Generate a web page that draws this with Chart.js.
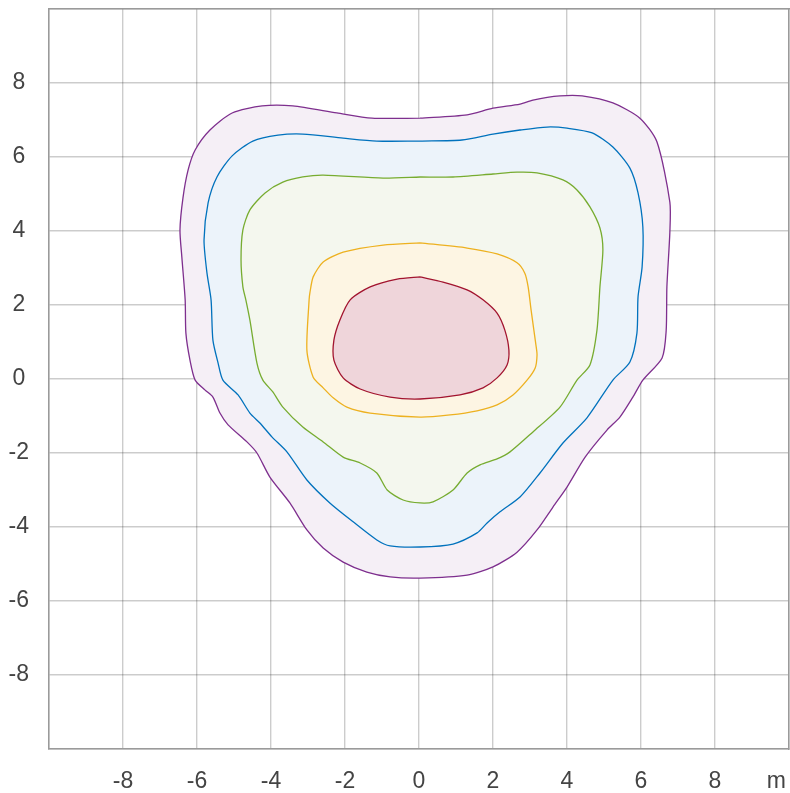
<!DOCTYPE html>
<html>
<head>
<meta charset="utf-8">
<script src="https://cdn.jsdelivr.net/npm/chart.js@4"></script>
<style>
  html, body { margin: 0; padding: 0; background: #fff; }
  #wrap { width: 790px; height: 793px; }
</style>
</head>
<body>
<div id="wrap"><canvas id="c" width="790" height="793"></canvas></div>
<script>
// Tick values
const tickValues = [-10, -8, -6, -4, -2, 0, 2, 4, 6, 8, 10];
const xUnitLabel = 'm';

// Contour levels (outer -> inner), closed polygons
const purpleX = [0.03, 1.30, 2.00, 2.73, 3.08, 3.81, 4.41, 5.24, 5.97, 6.43, 6.78, 6.78, 6.70, 6.68, 6.57, 6.05, 5.78, 5.43, 5.08, 4.49, 4.00, 3.62, 3.19, 2.65, 2.00, 1.30, 0.03, -0.78, -1.41, -2.05, -2.59, -3.03, -3.49, -4.03, -4.38, -4.65, -5.16, -5.38, -5.57, -5.78, -6.05, -6.19, -6.30, -6.32, -6.41, -6.46, -6.38, -6.24, -6.05, -5.65, -5.05, -4.24, -3.41, -2.22, -1.27, 0.03];
const purpleY = [7.05, 7.14, 7.32, 7.43, 7.54, 7.65, 7.65, 7.46, 7.05, 6.41, 4.78, 3.97, 2.49, 1.30, 0.57, -0.03, -0.49, -1.03, -1.38, -2.11, -2.92, -3.46, -4.08, -4.68, -5.08, -5.30, -5.38, -5.35, -5.22, -4.95, -4.57, -4.08, -3.35, -2.65, -2.00, -1.70, -1.24, -0.92, -0.49, -0.30, -0.03, 0.51, 1.24, 2.14, 3.30, 4.03, 4.89, 5.65, 6.19, 6.73, 7.19, 7.38, 7.38, 7.19, 7.05, 7.05];

const blueX = [0.03, 1.16, 2.00, 2.73, 3.46, 4.00, 4.68, 5.24, 5.70, 5.92, 6.05, 6.03, 5.92, 5.89, 5.70, 5.24, 4.54, 3.89, 3.27, 2.73, 2.19, 1.84, 1.57, 0.92, 0.03, -0.78, -1.14, -1.78, -2.41, -3.03, -3.57, -3.97, -4.30, -4.57, -4.89, -5.30, -5.43, -5.57, -5.62, -5.73, -5.81, -5.70, -5.46, -5.05, -4.49, -3.81, -3.14, -2.05, -1.14, 0.03];
const blueY = [6.43, 6.46, 6.62, 6.73, 6.81, 6.78, 6.65, 6.27, 5.70, 5.03, 4.11, 3.03, 2.22, 1.24, 0.46, -0.03, -1.05, -1.73, -2.54, -3.19, -3.59, -3.89, -4.16, -4.46, -4.54, -4.51, -4.35, -3.86, -3.35, -2.73, -1.97, -1.57, -1.19, -0.92, -0.43, -0.03, 0.43, 1.05, 2.14, 2.86, 3.76, 4.76, 5.46, 6.03, 6.43, 6.59, 6.62, 6.51, 6.43, 6.43];

const greenX = [0.03, 0.92, 2.00, 2.65, 3.19, 3.89, 4.27, 4.62, 4.89, 4.97, 4.89, 4.81, 4.62, 4.27, 3.81, 3.08, 2.46, 2.11, 1.65, 1.30, 0.92, 0.38, 0.03, -0.43, -0.86, -1.14, -1.59, -2.05, -2.59, -3.14, -3.68, -3.95, -4.22, -4.38, -4.57, -4.68, -4.76, -4.81, -4.76, -4.57, -4.16, -3.68, -3.14, -2.59, -0.97, 0.03];
const greenY = [5.46, 5.46, 5.54, 5.59, 5.57, 5.38, 5.11, 4.65, 4.08, 3.49, 2.49, 1.32, 0.38, -0.03, -0.76, -1.43, -1.97, -2.16, -2.32, -2.54, -3.00, -3.32, -3.35, -3.27, -3.00, -2.54, -2.27, -2.11, -1.70, -1.30, -0.76, -0.35, -0.03, 0.43, 1.59, 2.14, 2.49, 3.22, 4.03, 4.57, 5.03, 5.32, 5.46, 5.51, 5.43, 5.46];

const yellowX = [0.03, 1.30, 2.11, 2.65, 2.86, 2.95, 3.03, 3.16, 3.19, 3.14, 2.92, 2.54, 2.11, 1.57, 0.84, 0.03, -1.32, -1.95, -2.32, -2.59, -2.86, -3.03, -2.97, -2.95, -2.86, -2.59, -2.05, -0.97, 0.03];
const yellowY = [3.68, 3.54, 3.38, 3.14, 2.86, 2.49, 1.86, 0.92, 0.65, 0.30, -0.03, -0.43, -0.70, -0.86, -0.97, -1.03, -0.92, -0.76, -0.51, -0.24, 0.05, 0.78, 2.14, 2.32, 2.76, 3.16, 3.43, 3.62, 3.68];

const redX = [0.03, 0.65, 1.30, 1.73, 2.11, 2.32, 2.43, 2.38, 2.11, 1.73, 1.11, 0.03, -0.78, -1.59, -2.05, -2.30, -2.30, -2.14, -1.86, -1.32, -0.59, 0.03];
const redY = [2.76, 2.62, 2.41, 2.14, 1.78, 1.32, 0.78, 0.38, 0.03, -0.24, -0.43, -0.54, -0.49, -0.27, 0.03, 0.51, 1.05, 1.59, 2.14, 2.49, 2.70, 2.76];

function pts(xs, ys) { return xs.map((x, i) => ({ x: x, y: ys[i] })); }

const FONT = { family: '"Liberation Sans", Arial, Helvetica, sans-serif', size: 23 };
const TEXT = '#444444';
const GRID = 'rgba(0,0,0,0.2)';
const BORDER = '#9a9a9a';

function contour(xs, ys, line, fillc, ord) {
  return {
    data: pts(xs, ys),
    showLine: true,
    borderColor: line,
    backgroundColor: fillc,
    borderWidth: 1.3,
    pointRadius: 0,
    pointHoverRadius: 0,
    tension: 0.25,
    fill: 'shape',
    order: ord
  };
}

new Chart(document.getElementById('c'), {
  type: 'scatter',
  data: {
    datasets: [
      contour(redX, redY, 'rgb(162,20,47)', 'rgb(239,213,218)', 1),
      contour(yellowX, yellowY, 'rgb(237,177,32)', 'rgb(253,245,227)', 2),
      contour(greenX, greenY, 'rgb(119,172,48)', 'rgb(244,247,238)', 3),
      contour(blueX, blueY, 'rgb(0,114,189)', 'rgb(236,243,250)', 4),
      contour(purpleX, purpleY, 'rgb(126,47,142)', 'rgb(245,239,246)', 5)
    ]
  },
  options: {
    responsive: false,
    animation: false,
    events: [],
    layout: { padding: { top: 9, right: 1, left: 0, bottom: 0 } },
    plugins: { legend: { display: false }, tooltip: { enabled: false } },
    scales: {
      x: {
        type: 'linear', position: 'bottom', min: -10, max: 10, z: 1,
        afterBuildTicks: (s) => { s.ticks = tickValues.map(v => ({ value: v })); },
        afterFit: (s) => { s.height = 44; s.paddingLeft = 0; s.paddingRight = 0; },
        grid: { color: GRID, lineWidth: 1.4, drawTicks: false },
        border: { display: true, color: BORDER, width: 1.5 },
        ticks: {
          font: FONT, color: TEXT, padding: 19, maxRotation: 0, autoSkip: false,
          callback: (v) => v === 10 ? xUnitLabel + '    ' : (v === -10 ? '' : String(v))
        }
      },
      y: {
        type: 'linear', position: 'left', min: -10, max: 10, z: 1,
        afterBuildTicks: (s) => { s.ticks = tickValues.map(v => ({ value: v })); },
        afterFit: (s) => { s.width = 49; s.paddingTop = 0; s.paddingBottom = 0; },
        grid: { color: GRID, lineWidth: 1.4, drawTicks: false },
        border: { display: true, color: BORDER, width: 1.5 },
        ticks: {
          font: FONT, color: TEXT, padding: 20, crossAlign: 'center', autoSkip: false,
          callback: (v) => (v === 10 || v === -10) ? '' : String(v)
        }
      },
      x2: {
        type: 'linear', position: 'top', min: -10, max: 10, z: 1,
        afterFit: (s) => { s.height = 0; s.paddingLeft = 0; s.paddingRight = 0; },
        grid: { display: false, drawTicks: false },
        border: { display: true, color: BORDER, width: 1.5 },
        ticks: { display: false }
      },
      y2: {
        type: 'linear', position: 'right', min: -10, max: 10, z: 1,
        afterFit: (s) => { s.width = 0; s.paddingTop = 0; s.paddingBottom = 0; },
        grid: { display: false, drawTicks: false },
        border: { display: true, color: BORDER, width: 1.5 },
        ticks: { display: false }
      }
    }
  }
});
</script>
</body>
</html>
